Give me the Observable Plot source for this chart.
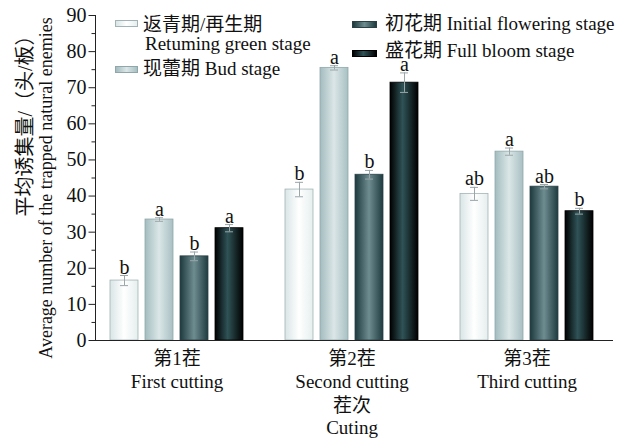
<!DOCTYPE html>
<html><head><meta charset="utf-8">
<script src="https://cdn.jsdelivr.net/npm/d3@7"></script>
<script src="https://cdn.jsdelivr.net/npm/@observablehq/plot@0.6"></script>
<style>
body{margin:0;background:#fff;}
#wrap{position:relative;width:618px;height:439px;font-family:"Liberation Serif","Noto Sans CJK SC",serif;color:#111;}
.lg{position:absolute;font-family:"Liberation Serif","Noto Sans CJK SC",serif;font-size:19px;white-space:nowrap;line-height:19px;}
.sw{position:absolute;box-sizing:border-box;}
</style></head><body><div id="wrap"></div>
<script>
const cuttings = ["第1茬", "第2茬", "第3茬"];
const cuttingsEn = ["First cutting", "Second cutting", "Third cutting"];
const stages = ["返青期/再生期", "现蕾期", "初花期", "盛花期"];
const stagesEn = ["Retuming green stage", "Bud stage", "Initial flowering stage", "Full bloom stage"];
const means = [[16.6, 33.5, 23.3, 31.1], [41.8, 75.5, 45.9, 71.4], [40.6, 52.3, 42.6, 35.8]];
const errors = [[1.4, 0.5, 1.2, 1.0], [2.0, 0.6, 1.2, 2.7], [1.8, 1.0, 0.6, 0.8]];
const letters = [["b", "a", "b", "a"], ["b", "a", "b", "a"], ["ab", "a", "ab", "b"]];
const yTicks = [0, 10, 20, 30, 40, 50, 60, 70, 80, 90];
const yMinor = [5, 15, 25, 35, 45, 55, 65, 75, 85];
const yTitle = "平均诱集量/（头/板）";
const yTitleEn = "Average number of the trapped natural enemies";
const xTitle = "茬次";
const xTitleEn = "Cuting";

// styles
const gradStops = [
  [["0", "#d9e5e6"], ["0.5", "#ffffff"], ["1", "#e6eeee"]],
  [["0", "#a3bcbf"], ["0.5", "#dbe6e7"], ["1", "#a8c0c3"]],
  [["0", "#1d393e"], ["0.5", "#6e8d91"], ["1", "#1f3b40"]],
  [["0", "#000000"], ["0.45", "#2f5357"], ["1", "#000000"]]
];
const strokes = ["#a3b3b5", "#8fa7aa", "#2a4246", "#000000"];

const key = (c, s) => c + "|" + s;
const domain = cuttings.flatMap((c, i) => [...stages.map(s => key(c, s)), ...(i < cuttings.length - 1 ? ["gap" + i] : [])]);
const rows = cuttings.flatMap((c, ci) => stages.map((s, si) => ({
  key: key(c, s), cutting: c, stage: s, si,
  mean: means[ci][si], err: errors[ci][si], letter: letters[ci][si]
})));

const ML = 95, MR = 6, W = 618, H = 439;
const xRange = [95, 607];
const pIn = 0.2, pOut = 0.4;
const xStep = (xRange[1] - xRange[0]) / (domain.length - pIn + 2 * pOut);

function defs() {
  const ns = "http://www.w3.org/2000/svg";
  const d = document.createElementNS(ns, "defs");
  gradStops.forEach((stops, i) => {
    const g = document.createElementNS(ns, "linearGradient");
    g.setAttribute("id", "grad" + i);
    g.setAttribute("x1", "0"); g.setAttribute("x2", "1");
    g.setAttribute("y1", "0"); g.setAttribute("y2", "0");
    stops.forEach(([o, c]) => {
      const st = document.createElementNS(ns, "stop");
      st.setAttribute("offset", o); st.setAttribute("stop-color", c);
      g.appendChild(st);
    });
    d.appendChild(g);
  });
  return d;
}

const font = '"Liberation Serif","Noto Sans CJK SC",serif';
const groupX = c => key(c, stages[1]);
const plot = Plot.plot({
  width: W, height: H,
  marginLeft: ML, marginRight: MR, marginTop: 15, marginBottom: 99,
  style: {fontFamily: font, fontSize: "19px", color: "#111", background: "#fff"},
  x: {domain, range: xRange, paddingInner: pIn, paddingOuter: pOut, axis: null},
  y: {domain: [0, 90]},
  marks: [
    defs,
    ...stages.map((s, i) => Plot.barY(rows.filter(r => r.si === i), {
      x: "key", y: "mean", fill: `url(#grad${i})`, stroke: strokes[i], strokeWidth: 0.8
    })),
    Plot.ruleX(rows, {x: "key", y1: d => d.mean - d.err, y2: d => d.mean + d.err, stroke: "#9aa6a8", strokeWidth: 1}),
    Plot.tickY(rows, {x: "key", y: d => d.mean + d.err, insetLeft: 10, insetRight: 10, stroke: "#9aa6a8", strokeWidth: 1}),
    Plot.tickY(rows, {x: "key", y: d => d.mean - d.err, insetLeft: 10, insetRight: 10, stroke: "#9aa6a8", strokeWidth: 1}),
    Plot.text(rows, {x: "key", y: d => d.mean + d.err, text: "letter", dy: -2, lineAnchor: "bottom", fontSize: 20, fill: "#111"}),
    Plot.axisY({ticks: yTicks, tickSize: 6.5, tickPadding: 2.5, fontSize: 20, label: null, stroke: "#222"}),
    Plot.axisY({ticks: yMinor, tickSize: 3.5, tickFormat: () => "", label: null, stroke: "#222"}),
    Plot.frame({anchor: "left", stroke: "#222"}),
    Plot.frame({anchor: "bottom", stroke: "#222"}),
    Plot.text(cuttings, {x: groupX, dx: xStep / 2, frameAnchor: "bottom", dy: 18, text: d => d, fontSize: 19, lineAnchor: "middle"}),
    Plot.text(cuttingsEn, {x: (c, i) => groupX(cuttings[i]), dx: xStep / 2, frameAnchor: "bottom", dy: 41, text: d => d, fontSize: 19, lineAnchor: "middle"}),
    Plot.text([xTitle], {x: () => groupX(cuttings[1]), dx: xStep / 2, frameAnchor: "bottom", dy: 65, text: d => d, fontSize: 19, lineAnchor: "middle"}),
    Plot.text([xTitleEn], {x: () => groupX(cuttings[1]), dx: xStep / 2, frameAnchor: "bottom", dy: 87, text: d => d, fontSize: 19, lineAnchor: "middle"}),
    Plot.text([yTitle], {frameAnchor: "left", textAnchor: "middle", rotate: -90, dx: -70, dy: -57, text: d => d, fontSize: 20, lineAnchor: "middle"}),
    Plot.text([yTitleEn], {frameAnchor: "left", textAnchor: "middle", rotate: -90, dx: -49, dy: 10, text: d => d, fontSize: 18, lineAnchor: "middle"})
  ]
});
const wrap = document.getElementById("wrap");
wrap.appendChild(plot);

// legend
const cssGrad = i => "linear-gradient(to right," + gradStops[i].map(([o, c]) => `${c} ${o * 100}%`).join(",") + ")";
const legendItems = [
  {sw: [115, 20, 23, 7], lines: [[143, 15, stages[0]], [145, 34, stagesEn[0]]]},
  {sw: [115, 66, 23, 7], lines: [[143, 59, stages[1] + " " + stagesEn[1]]]},
  {sw: [352, 21, 25, 7], lines: [[385, 14, stages[2] + " " + stagesEn[2]]]},
  {sw: [352, 50, 25, 7], lines: [[385, 41, stages[3] + " " + stagesEn[3]]]}
];
legendItems.forEach((it, i) => {
  const s = document.createElement("div");
  s.className = "sw";
  s.style.cssText = `left:${it.sw[0]}px;top:${it.sw[1]}px;width:${it.sw[2]}px;height:${it.sw[3]}px;background:${cssGrad(i)};border:0.8px solid ${strokes[i]};`;
  wrap.appendChild(s);
  it.lines.forEach(([l, t, txt]) => {
    const d = document.createElement("div");
    d.className = "lg";
    d.style.left = l + "px"; d.style.top = t + "px";
    d.textContent = txt;
    wrap.appendChild(d);
  });
});
</script></body></html>
